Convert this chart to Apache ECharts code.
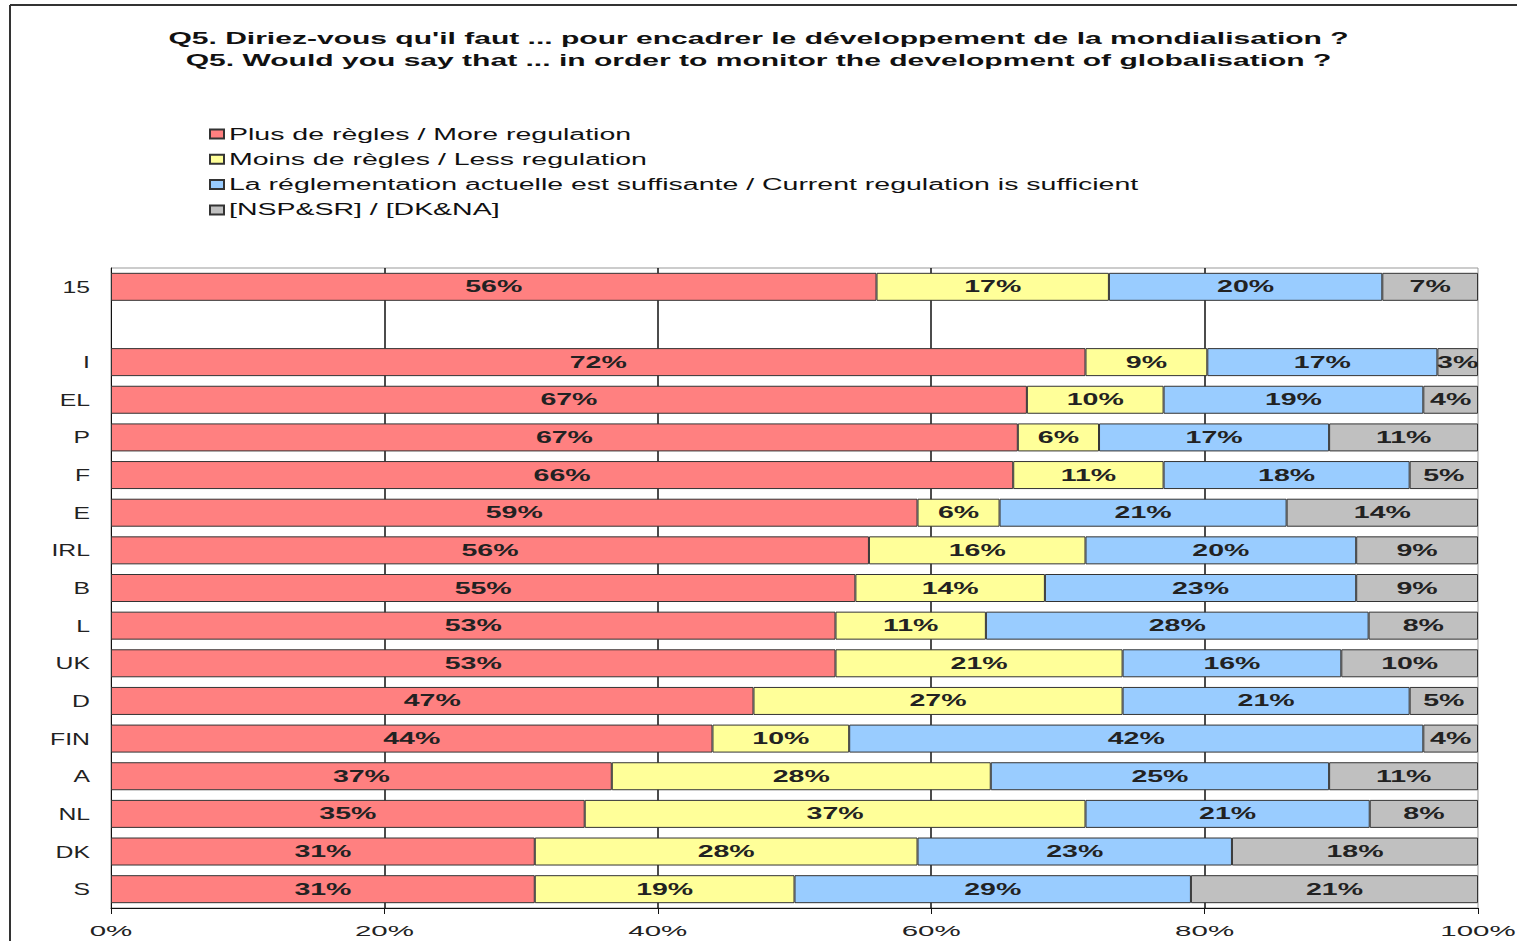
<!DOCTYPE html>
<html style="height: 100%">
<head>
    <meta charset="utf-8">
</head>
<body style="height: 100%; margin: 0; background: #fff">
<div id="container" style="width: 1517px; height: 941px"></div>

<script type="text/javascript" src="https://cdn.jsdelivr.net/npm/echarts@6/dist/echarts.min.js"></script>

<script type="text/javascript">
    var countries = ['15', '', 'I', 'EL', 'P', 'F', 'E', 'IRL', 'B', 'L', 'UK', 'D', 'FIN', 'A', 'NL', 'DK', 'S'];
    var moreRegulation = [56, null, 72, 67, 67, 66, 59, 56, 55, 53, 53, 47, 44, 37, 35, 31, 31];
    var lessRegulation = [17, null, 9, 10, 6, 11, 6, 16, 14, 11, 21, 27, 10, 28, 37, 28, 19];
    var currentSufficient = [20, null, 17, 19, 17, 18, 21, 20, 23, 28, 16, 21, 42, 25, 21, 23, 29];
    var dontKnow = [7, null, 3, 4, 11, 5, 14, 9, 9, 8, 10, 5, 4, 11, 8, 18, 21];

    var seriesNames = [
        'Plus de règles / More regulation',
        'Moins de règles / Less regulation',
        'La réglementation actuelle est suffisante / Current regulation is sufficient',
        '[NSP&SR] / [DK&NA]'
    ];
    var colors = ['#ff8080', '#ffff99', '#99ccff', '#c0c0c0'];
    var raw = [moreRegulation, lessRegulation, currentSufficient, dontKnow];

    // rows don't always add up to exactly 100 (rounding), scale each row to 100
    var totals = countries.map(function (c, i) {
        return raw.reduce(function (s, arr) { return s + (arr[i] || 0); }, 0);
    });

    var dom = document.getElementById('container');
    var myChart = echarts.init(dom, null, { renderer: 'svg' });

    var option = {
        backgroundColor: '#fff',
        animation: false,
        textStyle: { fontFamily: 'Liberation Sans' },
        title: {
            text: "Q5. Diriez-vous qu'il faut ... pour encadrer le développement de la mondialisation ?\nQ5. Would you say that ... in order to monitor the development of globalisation ?",
            left: 'center',
            top: 22,
            textStyle: { fontSize: 16.5, fontWeight: 'bold', color: '#111', lineHeight: 22 }
        },
        legend: {
            orient: 'vertical',
            left: 204,
            top: 121,
            icon: 'rect',
            itemWidth: 14,
            itemHeight: 9,
            itemGap: 9.3,
            textStyle: { fontSize: 16, color: '#111' },
            data: seriesNames
        },
        graphic: [
            { type: 'line', shape: { x1: 10, y1: 5, x2: 10, y2: 941 }, style: { stroke: '#333', lineWidth: 2 } },
            { type: 'line', shape: { x1: 10, y1: 5, x2: 1517, y2: 5 }, style: { stroke: '#333', lineWidth: 2 } }
        ],
        grid: {
            left: 111,
            right: 39,
            top: 268,
            bottom: 33,
            show: true,
            borderColor: '#999',
            borderWidth: 1
        },
        xAxis: {
            type: 'value',
            min: 0,
            max: 100,
            interval: 20,
            axisLine: { show: true, lineStyle: { color: '#111' } },
            axisTick: { show: true, length: 6, lineStyle: { color: '#111' } },
            axisLabel: { formatter: '{value}%', fontSize: 15.5, color: '#222', margin: 14 },
            splitLine: { show: true, showMinLine: false, showMaxLine: false, lineStyle: { color: '#111', width: 1.5 } }
        },
        yAxis: {
            type: 'category',
            inverse: true,
            data: countries,
            axisLine: { lineStyle: { color: '#111' } },
            axisTick: { length: 6, lineStyle: { color: '#111' } },
            axisLabel: { fontSize: 16.5, color: '#222', margin: 21 }
        },
        series: seriesNames.map(function (name, k) {
            return {
                name: name,
                type: 'bar',
                stack: 'total',
                barWidth: 28,
                itemStyle: { color: colors[k], borderColor: '#333', borderWidth: 1 },
                label: {
                    show: true,
                    position: 'inside',
                    fontSize: 16,
                    fontWeight: 'bold',
                    color: '#222',
                    formatter: function (p) { return raw[k][p.dataIndex] + '%'; }
                },
                data: raw[k].map(function (v, i) {
                    return v === null ? null : v / totals[i] * 100;
                })
            };
        })
    };

    myChart.setOption(option);

    // the source picture is stretched sideways: widen the glyphs the same way
    var stretch = {
        '700 16.5px': 1.82,  // title
        '400 16px': 1.78,    // legend
        '400 16.5px': 1.5,   // country labels
        '400 15.5px': 1.9,   // percent axis
        '700 16px': 1.78     // bar labels
    };
    function widenTexts() {
        dom.querySelectorAll('text').forEach(function (t) {
            var cs = getComputedStyle(t);
            var f = stretch[cs.fontWeight + ' ' + cs.fontSize];
            if (!f) return;
            var base = t.getAttribute('data-base');
            if (!base) {
                base = t.getComputedTextLength();
                t.setAttribute('data-base', base);
            }
            t.setAttribute('textLength', (base * f).toFixed(1));
            t.setAttribute('lengthAdjust', 'spacingAndGlyphs');
        });
    }
    widenTexts();
    myChart.on('finished', widenTexts);
    setTimeout(widenTexts, 0);
</script>
</body>
</html>
